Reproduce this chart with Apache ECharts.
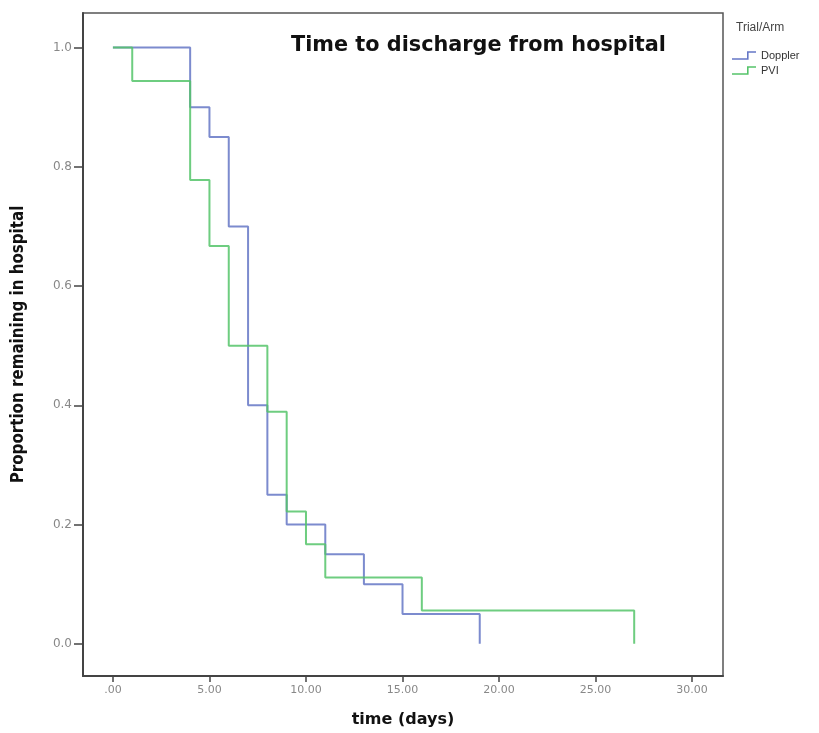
<!DOCTYPE html>
<html>
<head>
<meta charset="utf-8">
<script src="https://cdn.jsdelivr.net/npm/echarts@6/dist/echarts.min.js"></script>
<style>
html,body{margin:0;padding:0;background:#fff;}
#chart{width:819px;height:733px;}
</style>
</head>
<body>
<div id="chart"></div>
<script>
// Kaplan-Meier steps: [day, proportion remaining]
var dopplerDays = [0, 4, 5, 6, 7, 8, 9, 11, 13, 15, 19];
var dopplerProp = [1.0, 0.90, 0.85, 0.70, 0.40, 0.25, 0.20, 0.15, 0.10, 0.05, 0.0];
var pviDays = [0, 1, 4, 5, 6, 8, 9, 10, 11, 16, 27];
var pviProp = [1.0, 0.944, 0.778, 0.667, 0.5, 0.389, 0.222, 0.167, 0.111, 0.056, 0.0];
var xTicks = [0, 5, 10, 15, 20, 25, 30];
var yTicks = [0, 0.2, 0.4, 0.6, 0.8, 1.0];

function pairs(xs, ys){
	var out = [];
	for (var i = 0; i < xs.length; i++) out.push([xs[i], ys[i]]);
	return out;
}

// step shaped legend glyph (thin filled polygon)
var stepIcon = 'path://M0,7 L15,7 L15,0 L24,0 L24,1.6 L16.6,1.6 L16.6,8.6 L0,8.6 Z';

var chart = echarts.init(document.getElementById('chart'));
var option = {
	animation: false,
	textStyle: {fontFamily: 'Liberation Sans, Arial, sans-serif'},
	title: {
		text: 'Time to discharge from hospital',
		left: 286, top: 30,
		textStyle: {fontSize: 20.8, fontWeight: 'bold', color: '#111', fontFamily: 'DejaVu Sans, sans-serif'}
	},
	legend: {
		orient: 'vertical',
		left: 727, top: 45,
		itemWidth: 24, itemHeight: 9, itemGap: 4,
		icon: stepIcon,
		textStyle: {fontSize: 11, color: '#333'},
		data: ['Doppler', 'PVI']
	},
	graphic: [{
		type: 'text', left: 736, top: 22,
		style: {text: 'Trial/Arm', fontSize: 12, fill: '#444', fontFamily: 'Liberation Sans, Arial, sans-serif'}
	}],
	grid: {
		left: 83, right: 96, top: 13, bottom: 56,
		show: true, borderColor: '#555', borderWidth: 1.5
	},
	xAxis: {
		type: 'value', min: -1.55, max: 31.6,
		name: 'time (days)', nameLocation: 'middle', nameGap: 36,
		nameTextStyle: {fontSize: 16, fontWeight: 'bold', color: '#111', fontFamily: 'DejaVu Sans, sans-serif'},
		axisLine: {show: true, onZero: false, lineStyle: {color: '#444', width: 2}},
		axisTick: {show: true, customValues: xTicks, length: 6, lineStyle: {color: '#444', width: 1.5}},
		axisLabel: {
			customValues: xTicks, fontSize: 11, color: '#888', margin: 9,
			fontFamily: 'DejaVu Sans, sans-serif',
			formatter: function(v){ return v === 0 ? '.00' : v.toFixed(2); }
		},
		splitLine: {show: false}
	},
	yAxis: {
		type: 'value', min: -0.054, max: 1.058,
		name: 'Proportion remaining in hospital', nameLocation: 'middle', nameGap: 56,
		nameTextStyle: {fontSize: 16.8, fontWeight: 'bold', color: '#111', fontFamily: 'DejaVu Sans Condensed, sans-serif'},
		axisLine: {show: true, onZero: false, lineStyle: {color: '#444', width: 2}},
		axisTick: {show: true, customValues: yTicks, length: 9, lineStyle: {color: '#444', width: 1.5}},
		axisLabel: {
			customValues: yTicks, fontSize: 12, color: '#888', margin: 11,
			fontFamily: 'DejaVu Sans, sans-serif',
			formatter: function(v){ return v.toFixed(1); }
		},
		splitLine: {show: false}
	},
	series: [{
		name: 'Doppler', type: 'line', step: 'end',
		data: pairs(dopplerDays, dopplerProp),
		showSymbol: false, color: '#6577c6',
		lineStyle: {width: 2, opacity: 0.85}
	}, {
		name: 'PVI', type: 'line', step: 'end',
		data: pairs(pviDays, pviProp),
		showSymbol: false, color: '#55c46a',
		lineStyle: {width: 2, opacity: 0.85}
	}]
};
chart.setOption(option);
</script>
</body>
</html>
